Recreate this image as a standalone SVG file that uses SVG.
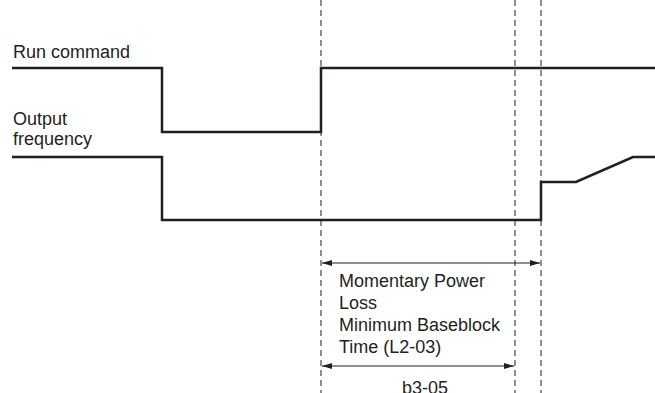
<svg xmlns="http://www.w3.org/2000/svg" width="655" height="393" viewBox="0 0 655 393">
<style>
.sig{fill:none;stroke:#231f20;stroke-width:2.5}
.dash{stroke:#231f20;stroke-width:1;stroke-dasharray:6,4}
.dim{stroke:#231f20;stroke-width:1}
text{font-family:"Liberation Sans",Arial,sans-serif;font-size:18px;fill:#231f20}
</style>
<defs>
<marker id="ah" viewBox="0 0 10 6" refX="10" refY="3" markerWidth="10" markerHeight="6" markerUnits="userSpaceOnUse" orient="auto-start-reverse">
<path d="M0,0 L10,3 L0,6 Z" fill="#231f20"/>
</marker>
</defs>
<g id="guides">
<line class="dash" x1="321" y1="0" x2="321" y2="393"/>
<line class="dash" x1="515" y1="0" x2="515" y2="393"/>
<line class="dash" x1="541" y1="0" x2="541" y2="393"/>
</g>
<g id="run-command">
<text x="13" y="58">Run command</text>
<polyline class="sig" points="12,68 162,68 162,132 321,132 321,68 655,68"/>
</g>
<g id="output-frequency">
<text x="13" y="125">Output</text>
<text x="13" y="145">frequency</text>
<polyline class="sig" points="12,157 162,157 162,220 541,220 541,182 576,182 633,157 655,157"/>
</g>
<g id="connectors">
<line class="dim" x1="322" y1="263" x2="540" y2="263" marker-start="url(#ah)" marker-end="url(#ah)"/>
<line class="dim" x1="322" y1="366" x2="514" y2="366" marker-start="url(#ah)" marker-end="url(#ah)"/>
</g>
<g id="label-mpl">
<text x="339" y="287">Momentary Power</text>
<text x="339" y="309">Loss</text>
<text x="339" y="331">Minimum Baseblock</text>
<text x="339" y="353">Time (L2-03)</text>
</g>
<g id="label-b3">
<text x="425" y="394" text-anchor="middle">b3-05</text>
</g>
</svg>
